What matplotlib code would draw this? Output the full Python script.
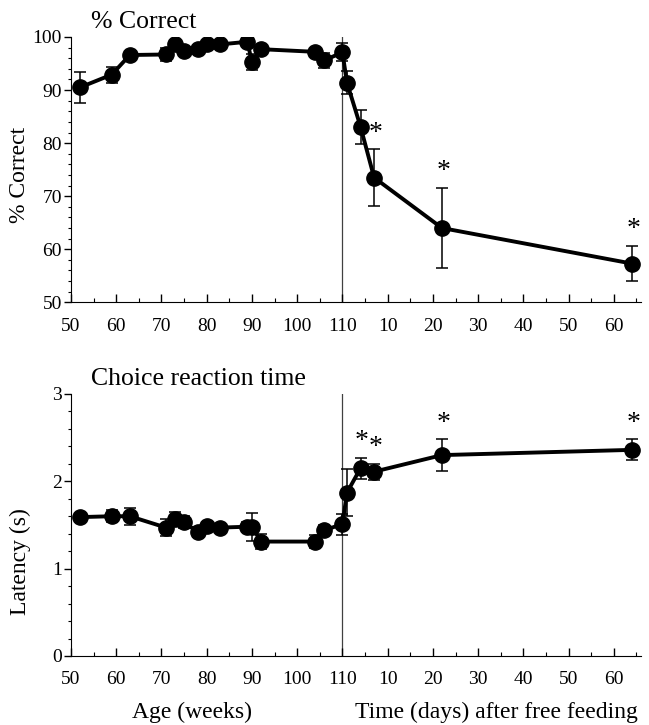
import numpy as np
import matplotlib
matplotlib.use('Agg')
import matplotlib.pyplot as plt
from matplotlib.ticker import MultipleLocator

plt.rcParams['font.family'] = ['Liberation Serif', 'DejaVu Serif']

# age phase (weeks)
ages = [52, 59, 63, 71, 73, 75, 78, 80, 83, 89, 90, 92, 104, 106, 110]
pc_age = [90.5, 92.9, 96.6, 96.7, 98.6, 97.4, 97.8, 98.6, 98.6, 99.1, 95.2, 97.7, 97.2, 95.6, 97.1]
pc_age_err = [2.9, 1.5, 0.6, 1.2, 0.6, 0.5, 0.5, 0.5, 0.5, 0.5, 1.5, 0.5, 0.5, 1.4, 1.7]
rt_age = [1.59, 1.60, 1.60, 1.47, 1.57, 1.53, 1.42, 1.49, 1.47, 1.48, 1.48, 1.31, 1.31, 1.44, 1.51]
rt_age_err = [0.03, 0.07, 0.10, 0.10, 0.08, 0.07, 0.06, 0.04, 0.04, 0.05, 0.16, 0.09, 0.07, 0.06, 0.12]

# free feeding phase (days)
days = [1, 4, 7, 22, 64]
pc_day = [91.4, 83.1, 73.5, 64.0, 57.3]
pc_day_err = [2.2, 3.2, 5.3, 7.6, 3.3]
rt_day = [1.87, 2.15, 2.11, 2.30, 2.36]
rt_day_err = [0.27, 0.12, 0.09, 0.18, 0.12]
sig_pc = [False, False, True, True, True]
sig_rt = [False, True, True, True, True]

age_ticks = [50, 60, 70, 80, 90, 100, 110]
day_ticks = [10, 20, 30, 40, 50, 60]

switch = 110  # day 0 sits at week 110 on the shared axis
x_all = ages + [switch + d for d in days]
xtick_pos = age_ticks + [switch + d for d in day_ticks]
xtick_lab = [str(t) for t in age_ticks + day_ticks]

fig = plt.figure(figsize=(6.49, 7.25), dpi=100)
ax1 = fig.add_axes([0.1094, 0.583, 0.8783, 0.366])
ax2 = fig.add_axes([0.1094, 0.0952, 0.8783, 0.3614])


def panel(ax, y, err, sig, ylim, major, minor, title):
    ax.errorbar(x_all, y, yerr=err, fmt='-o', color='black', lw=2.8, ms=11,
                elinewidth=1.1, capsize=4, capthick=1.1, zorder=3)
    ax.axvline(switch, color='0.25', lw=0.9, zorder=1)
    n = len(ages)
    for i, s in enumerate(sig):
        if s:
            ax.annotate('*', (x_all[n + i], y[n + i] + err[n + i]),
                        xytext=(1, 7), textcoords='offset points',
                        ha='center', va='baseline', fontsize=20)
    ax.set_xlim(50, 176)
    ax.set_ylim(*ylim)
    ax.set_xticks(xtick_pos)
    ax.set_xticklabels(xtick_lab)
    ax.xaxis.set_minor_locator(MultipleLocator(5))
    ax.yaxis.set_major_locator(MultipleLocator(major))
    ax.yaxis.set_minor_locator(MultipleLocator(minor))
    ax.tick_params(axis='x', which='major', direction='in', length=6, width=1, pad=11, labelsize=14)
    ax.tick_params(axis='x', which='minor', direction='in', length=3, width=0.8)
    ax.tick_params(axis='y', which='major', direction='out', length=5, width=1, pad=1.5, labelsize=14)
    ax.tick_params(axis='y', which='minor', direction='out', length=2.5, width=0.8)
    for side in ['top', 'right']:
        ax.spines[side].set_visible(False)
    ax.text(0.035, 1.035, title, transform=ax.transAxes, fontsize=18.5, va='baseline')


panel(ax1, pc_age + pc_day, pc_age_err + pc_day_err, sig_pc, (50, 100), 10, 2, '% Correct')
panel(ax2, rt_age + rt_day, rt_age_err + rt_day_err, sig_rt, (0, 3), 1, 0.2, 'Choice reaction time')

fig.text(20 / 649, 1 - 175 / 725, '% Correct', rotation=90, ha='center', va='center', fontsize=17)
fig.text(20 / 649, 1 - 562 / 725, 'Latency (s)', rotation=90, ha='center', va='center', fontsize=17)
fig.text(192 / 649, 1 - 712 / 725, 'Age (weeks)', ha='center', va='center', fontsize=17)
fig.text(496 / 649, 1 - 712 / 725, 'Time (days) after free feeding', ha='center', va='center', fontsize=17)

fig.savefig('out.png', dpi=100)
